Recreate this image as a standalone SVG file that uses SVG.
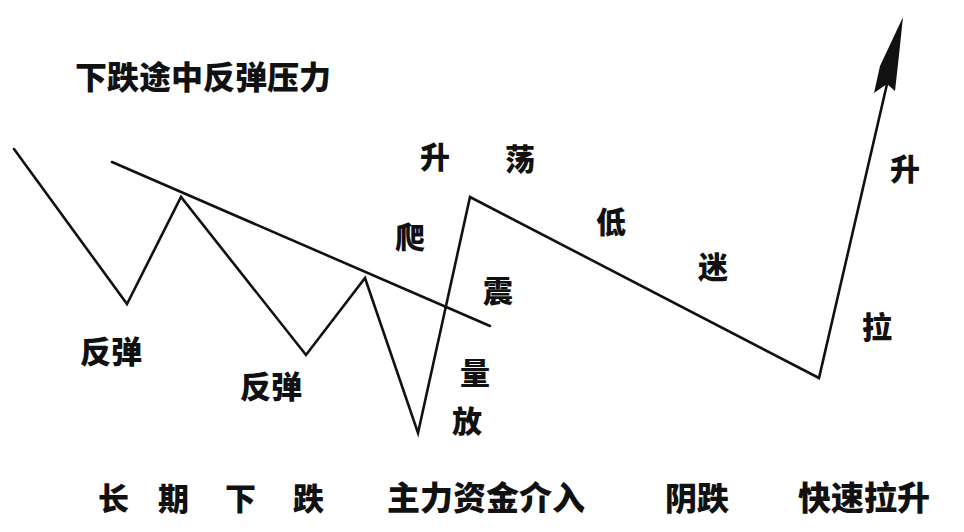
<svg xmlns="http://www.w3.org/2000/svg" width="964" height="532" viewBox="0 0 964 532">
<style>
.t{font-family:"Noto Sans CJK SC","Noto Sans CJK JP",sans-serif;font-weight:900;fill:#111;}
.l{fill:none;stroke:#111;stroke-width:2.6;stroke-linejoin:miter;stroke-linecap:round;}
</style>
<rect width="964" height="532" fill="#fff"/>
<g id="connectors">
<polyline id="price" class="l" points="14,149 127,304 181,197 306,355 365,278 418,433 470,197 819,378 887,84"/>
<path id="arrowhead" d="M903,17 L899,55 L895,91 L887,84 L874,93 L880,66 Z" fill="#111"/>
<line id="trendline" class="l" x1="112" y1="162" x2="490" y2="326"/>
</g>
<g id="title"><text class="t" x="75" y="89" font-size="32">下跌途中反弹压力</text></g>
<g id="label-fantan1"><text class="t" x="80" y="363" font-size="31">反弹</text></g>
<g id="label-fantan2"><text class="t" x="240" y="398" font-size="31">反弹</text></g>
<g id="label-sheng1"><text class="t" x="420" y="168" font-size="30">升</text></g>
<g id="label-dang"><text class="t" x="505" y="170" font-size="30">荡</text></g>
<g id="label-pa"><text class="t" x="395" y="248" font-size="30">爬</text></g>
<g id="label-di"><text class="t" x="596" y="233" font-size="30">低</text></g>
<g id="label-mi"><text class="t" x="698" y="278" font-size="30">迷</text></g>
<g id="label-zhen"><text class="t" x="483" y="302" font-size="30">震</text></g>
<g id="label-liang"><text class="t" x="460" y="384" font-size="30">量</text></g>
<g id="label-fang"><text class="t" x="452" y="432" font-size="30">放</text></g>
<g id="label-sheng2"><text class="t" x="890" y="180" font-size="30">升</text></g>
<g id="label-la"><text class="t" x="862" y="338" font-size="30">拉</text></g>
<g id="bottom-labels">
<text class="t" x="98" y="510" font-size="31">长</text>
<text class="t" x="158" y="510" font-size="31">期</text>
<text class="t" x="225" y="510" font-size="31">下</text>
<text class="t" x="293" y="510" font-size="31">跌</text>
<text class="t" x="387" y="510" font-size="33">主力资金介入</text>
<text class="t" x="665" y="510" font-size="32">阴跌</text>
<text class="t" x="798" y="510" font-size="33">快速拉升</text>
</g>
</svg>
